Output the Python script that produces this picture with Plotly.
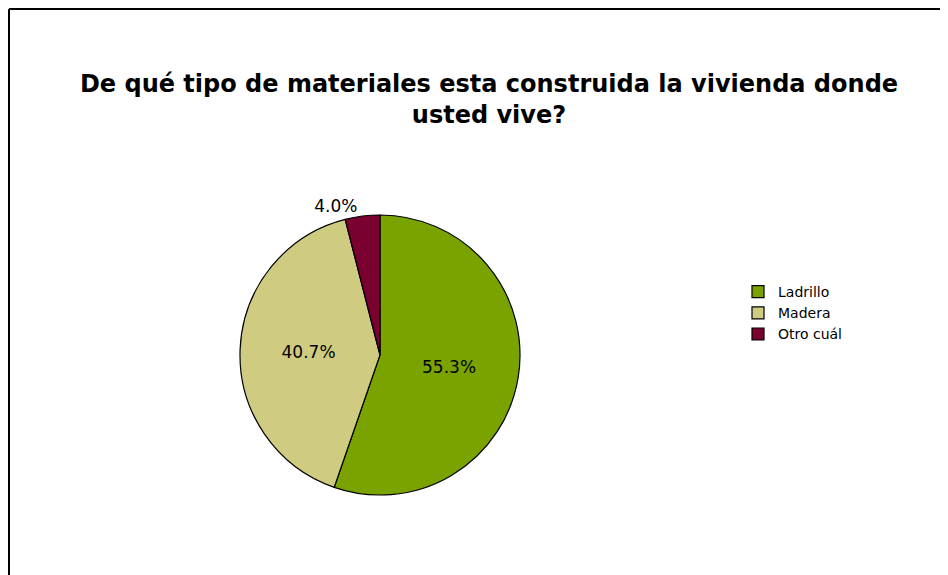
import plotly.graph_objects as go

categories = ["Ladrillo", "Madera", "Otro cuál"]
values = [55.3, 40.7, 4.0]
colors = ["#7AA300", "#CFCB80", "#7A0030"]
title_text = "De qué tipo de materiales esta construida la vivienda donde<br>usted vive?"

W, H = 948, 575
OFF = 8  # page body margin offset
FONT = "DejaVu Sans, Verdana, sans-serif"


def px(x):
    return (x - OFF) / W


def py(y):
    return 1 - (y - OFF) / H


fig = go.Figure()
fig.add_trace(go.Pie(
    labels=categories,
    values=values,
    sort=False,
    direction="clockwise",
    rotation=0,
    marker=dict(colors=colors, line=dict(color="#000000", width=1.2)),
    texttemplate="%{percent:.1%}",
    textposition=["inside", "inside", "outside"],
    insidetextorientation="horizontal",
    textfont=dict(family=FONT, size=17, color="#000000"),
    outsidetextfont=dict(family=FONT, size=17, color="#000000"),
    hoverinfo="label+percent",
    domain=dict(x=[px(240), px(520)], y=[py(495), py(215)]),
))

fig.update_layout(
    width=W, height=H,
    margin=dict(l=0, r=0, t=0, b=0),
    paper_bgcolor="#FFFFFF",
    plot_bgcolor="#FFFFFF",
    title=dict(
        text=title_text,
        x=px(489), xanchor="center",
        y=py(92), yanchor="middle",
        font=dict(family=FONT, size=24, color="#000000", weight="bold"),
    ),
    legend=dict(
        x=px(738), xanchor="left",
        y=py(276), yanchor="top",
        font=dict(family=FONT, size=14, color="#000000"),
        bgcolor="rgba(0,0,0,0)",
        tracegroupgap=0,
    ),
    showlegend=True,
    shapes=[
        dict(type="line", xref="paper", yref="paper", x0=px(9), x1=px(9), y0=0, y1=py(9),
             line=dict(color="#000000", width=2)),
        dict(type="line", xref="paper", yref="paper", x0=px(9), x1=1, y0=py(9), y1=py(9),
             line=dict(color="#000000", width=2)),
    ],
)

fig.write_html("out.html")
